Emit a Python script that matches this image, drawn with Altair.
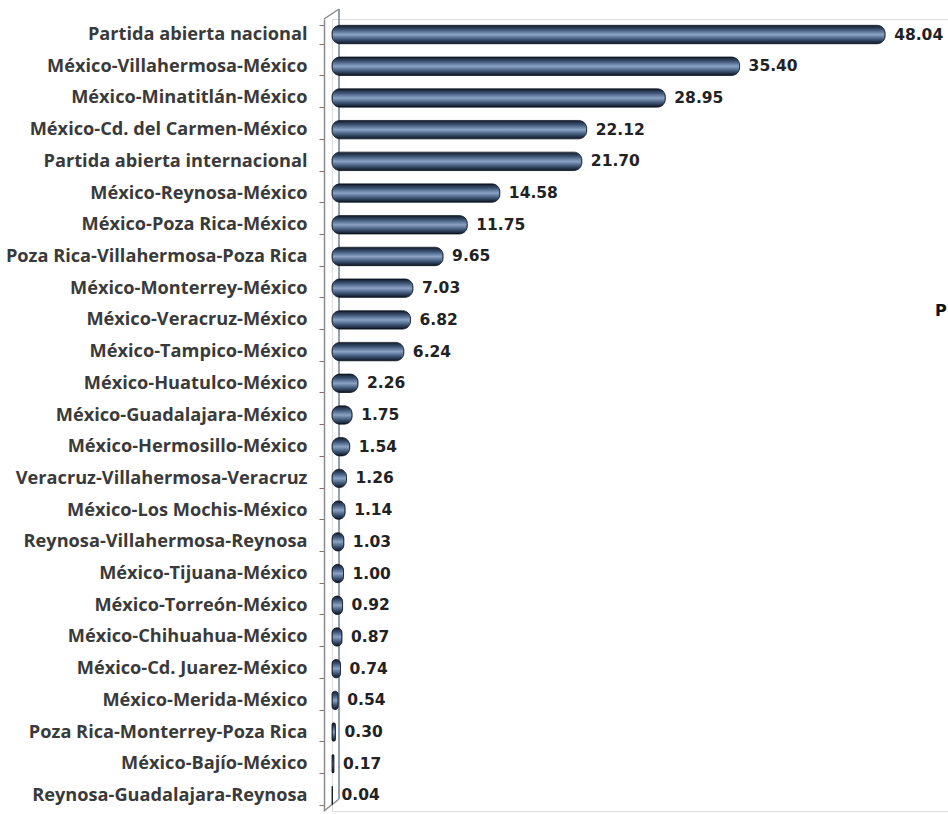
import altair as alt
import pandas as pd

routes = [
    "Partida abierta nacional",
    "México-Villahermosa-México",
    "México-Minatitlán-México",
    "México-Cd. del Carmen-México",
    "Partida abierta internacional",
    "México-Reynosa-México",
    "México-Poza Rica-México",
    "Poza Rica-Villahermosa-Poza Rica",
    "México-Monterrey-México",
    "México-Veracruz-México",
    "México-Tampico-México",
    "México-Huatulco-México",
    "México-Guadalajara-México",
    "México-Hermosillo-México",
    "Veracruz-Villahermosa-Veracruz",
    "México-Los Mochis-México",
    "Reynosa-Villahermosa-Reynosa",
    "México-Tijuana-México",
    "México-Torreón-México",
    "México-Chihuahua-México",
    "México-Cd. Juarez-México",
    "México-Merida-México",
    "Poza Rica-Monterrey-Poza Rica",
    "México-Bajío-México",
    "Reynosa-Guadalajara-Reynosa",
]
values = [48.04, 35.40, 28.95, 22.12, 21.70, 14.58, 11.75, 9.65, 7.03, 6.82,
          6.24, 2.26, 1.75, 1.54, 1.26, 1.14, 1.03, 1.00, 0.92, 0.87,
          0.74, 0.54, 0.30, 0.17, 0.04]
side_text = ["P"]

df = pd.DataFrame({"route": routes, "value": values})
df["label"] = [f"{v:.2f}" for v in values]

W, H = 616, 792
LABEL_FONT = "Open Sans"
VALUE_FONT = "DejaVu Sans"

y_enc = alt.Y(
    "route:N",
    sort=routes,
    title=None,
    scale=alt.Scale(paddingInner=0.42, paddingOuter=0.2),
    axis=alt.Axis(
        labelFont=LABEL_FONT,
        labelFontSize=18.2,
        labelFontWeight="bold",
        labelColor="#3a3a3a",
        labelPadding=12,
        labelLimit=0,
        offset=8,
        tickBand="extent",
        tickSize=5,
        tickColor="#8a6f6a",
        domainColor="#8c8c8c",
        domainWidth=1.5,
    ),
)
x_enc = alt.X("value:Q", scale=alt.Scale(domain=[0, 53.5], nice=False), axis=None)

grad = alt.Gradient(
    gradient="linear",
    stops=[
        alt.GradientStop(color="#111a2a", offset=0),
        alt.GradientStop(color="#3a5071", offset=0.22),
        alt.GradientStop(color="#8aa4c6", offset=0.5),
        alt.GradientStop(color="#3a5071", offset=0.78),
        alt.GradientStop(color="#0d1422", offset=1),
    ],
    x1=0, x2=0, y1=0, y2=1,
)

wall_df = pd.DataFrame({"k": [0]})
wall = alt.Chart(wall_df).mark_rule(color="#6f8099", strokeWidth=1.5).encode(
    x=alt.value(7), y=alt.value(-10), y2=alt.value(H - 12)
)
top_slant = alt.Chart(wall_df).mark_rule(color="#8c8c8c", strokeWidth=1.5).encode(
    x=alt.value(-8), y=alt.value(0), x2=alt.value(7), y2=alt.value(-10)
)
bottom_slant = alt.Chart(wall_df).mark_rule(color="#8c8c8c", strokeWidth=1.5).encode(
    x=alt.value(-8), y=alt.value(H), x2=alt.value(7), y2=alt.value(H - 12)
)

base = alt.Chart(df)
bars = base.mark_bar(color=grad, cornerRadius=8, stroke="#0d1420", strokeWidth=0.8).encode(
    y=y_enc, x=x_enc
)
text = base.mark_text(
    align="left", baseline="middle", dx=9, font=VALUE_FONT, fontSize=15.5,
    fontWeight="bold", color="#222222"
).encode(
    y=alt.Y("route:N", sort=routes),
    x=alt.X("value:Q", axis=None),
    text="label:N",
)

side = alt.Chart(pd.DataFrame({"t": side_text})).mark_text(
    align="left", baseline="middle", font=VALUE_FONT, fontSize=16, fontWeight="bold", color="#111111"
).encode(x=alt.value(603), y=alt.value(292), text="t:N")

chart = alt.layer(wall, top_slant, bottom_slant, bars, text, side).properties(
    width=W, height=H,
    autosize=alt.AutoSizeParams(type="none"),
    padding={"left": 332, "top": 19, "right": 0, "bottom": 3},
).configure_view(stroke="transparent", strokeWidth=0).configure(background="white")

chart.save("out.html", embed_options={"renderer": "svg", "actions": False})
